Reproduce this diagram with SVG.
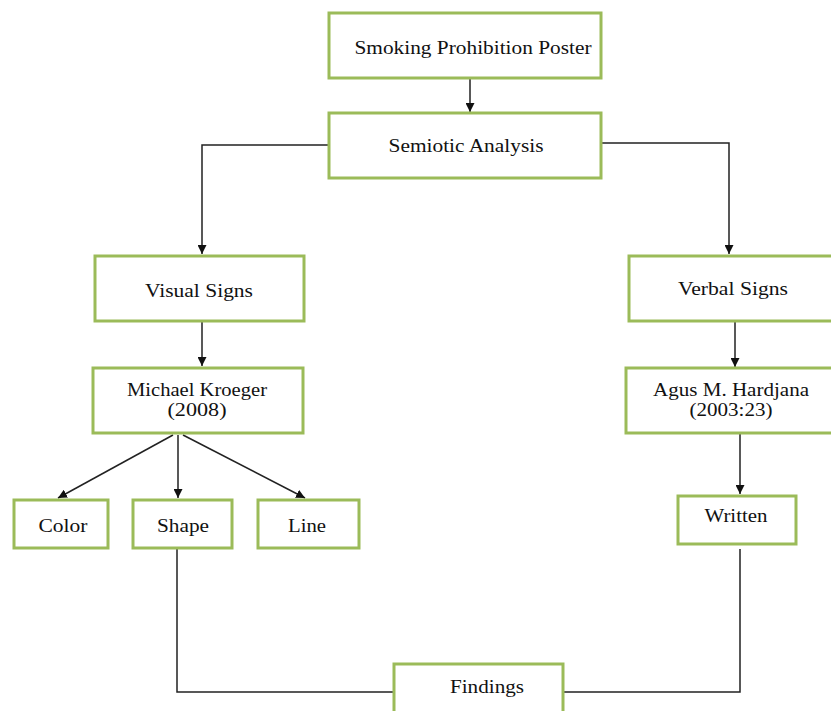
<svg xmlns="http://www.w3.org/2000/svg" width="831" height="711" viewBox="0 0 831 711">
<style>
.box{fill:#fff;stroke:#9bbb59;stroke-width:3}
.t{font-family:"Liberation Serif","Times New Roman",serif;font-size:19px;fill:#111;text-anchor:middle}
.c{fill:none;stroke:#222;stroke-width:1.5}
</style>
<defs>
<marker id="ah" viewBox="0 0 10 10" refX="10" refY="5" markerWidth="9" markerHeight="9" markerUnits="userSpaceOnUse" orient="auto">
<path d="M0,0 L10,5 L0,10 z" fill="#111"/>
</marker>
</defs>
<rect width="831" height="711" fill="#fff"/>
<g id="connectors">
<line class="c" x1="470" y1="79" x2="470" y2="112" marker-end="url(#ah)" stroke="#555"/>
<path class="c" d="M329,145 H202 V254" marker-end="url(#ah)"/>
<path class="c" d="M601,143 H729 V254" marker-end="url(#ah)"/>
<line class="c" x1="202" y1="322" x2="202" y2="366" marker-end="url(#ah)" stroke="#444"/>
<line class="c" x1="735" y1="321" x2="735" y2="367" marker-end="url(#ah)" stroke="#444"/>
<line class="c" x1="173" y1="435" x2="58" y2="498" marker-end="url(#ah)" stroke="#444"/>
<line class="c" x1="178" y1="435" x2="178" y2="498" marker-end="url(#ah)" stroke="#444"/>
<line class="c" x1="183" y1="435" x2="305" y2="498" marker-end="url(#ah)" stroke="#444"/>
<line class="c" x1="740" y1="434" x2="740" y2="494" marker-end="url(#ah)"/>
<path class="c" d="M177,549 V692 H393"/>
<path class="c" d="M740,549 V692 H563"/>
</g>
<g id="poster"><rect class="box" x="329" y="13" width="272" height="65"/><text class="t" x="473" y="54" textLength="237" lengthAdjust="spacingAndGlyphs">Smoking Prohibition Poster</text></g>
<g id="semiotic"><rect class="box" x="329" y="113" width="272" height="65"/><text class="t" x="466" y="152" textLength="155" lengthAdjust="spacingAndGlyphs">Semiotic Analysis</text></g>
<g id="visual"><rect class="box" x="95" y="256" width="209" height="65"/><text class="t" x="199" y="297" textLength="108" lengthAdjust="spacingAndGlyphs">Visual Signs</text></g>
<g id="verbal"><rect class="box" x="629" y="256" width="210" height="65"/><text class="t" x="733" y="295" textLength="110" lengthAdjust="spacingAndGlyphs">Verbal Signs</text></g>
<g id="kroeger"><rect class="box" x="93" y="368" width="210" height="65"/><text class="t" x="197" y="396" textLength="140" lengthAdjust="spacingAndGlyphs">Michael Kroeger</text><text class="t" x="197" y="416" textLength="59" lengthAdjust="spacingAndGlyphs">(2008)</text></g>
<g id="hardjana"><rect class="box" x="626" y="368" width="213" height="65"/><text class="t" x="731" y="396" textLength="156" lengthAdjust="spacingAndGlyphs">Agus M. Hardjana</text><text class="t" x="731" y="416" textLength="83" lengthAdjust="spacingAndGlyphs">(2003:23)</text></g>
<g id="color"><rect class="box" x="14" y="500" width="94" height="48"/><text class="t" x="63" y="532" textLength="49" lengthAdjust="spacingAndGlyphs">Color</text></g>
<g id="shape"><rect class="box" x="133" y="500" width="99" height="48"/><text class="t" x="183" y="532" textLength="52" lengthAdjust="spacingAndGlyphs">Shape</text></g>
<g id="line"><rect class="box" x="258" y="500" width="101" height="48"/><text class="t" x="307" y="532" textLength="38" lengthAdjust="spacingAndGlyphs">Line</text></g>
<g id="written"><rect class="box" x="678" y="496" width="118" height="48"/><text class="t" x="736" y="522" textLength="63" lengthAdjust="spacingAndGlyphs">Written</text></g>
<g id="findings"><rect class="box" x="394" y="664" width="169" height="60"/><text class="t" x="487" y="693" textLength="74" lengthAdjust="spacingAndGlyphs">Findings</text></g>
</svg>
